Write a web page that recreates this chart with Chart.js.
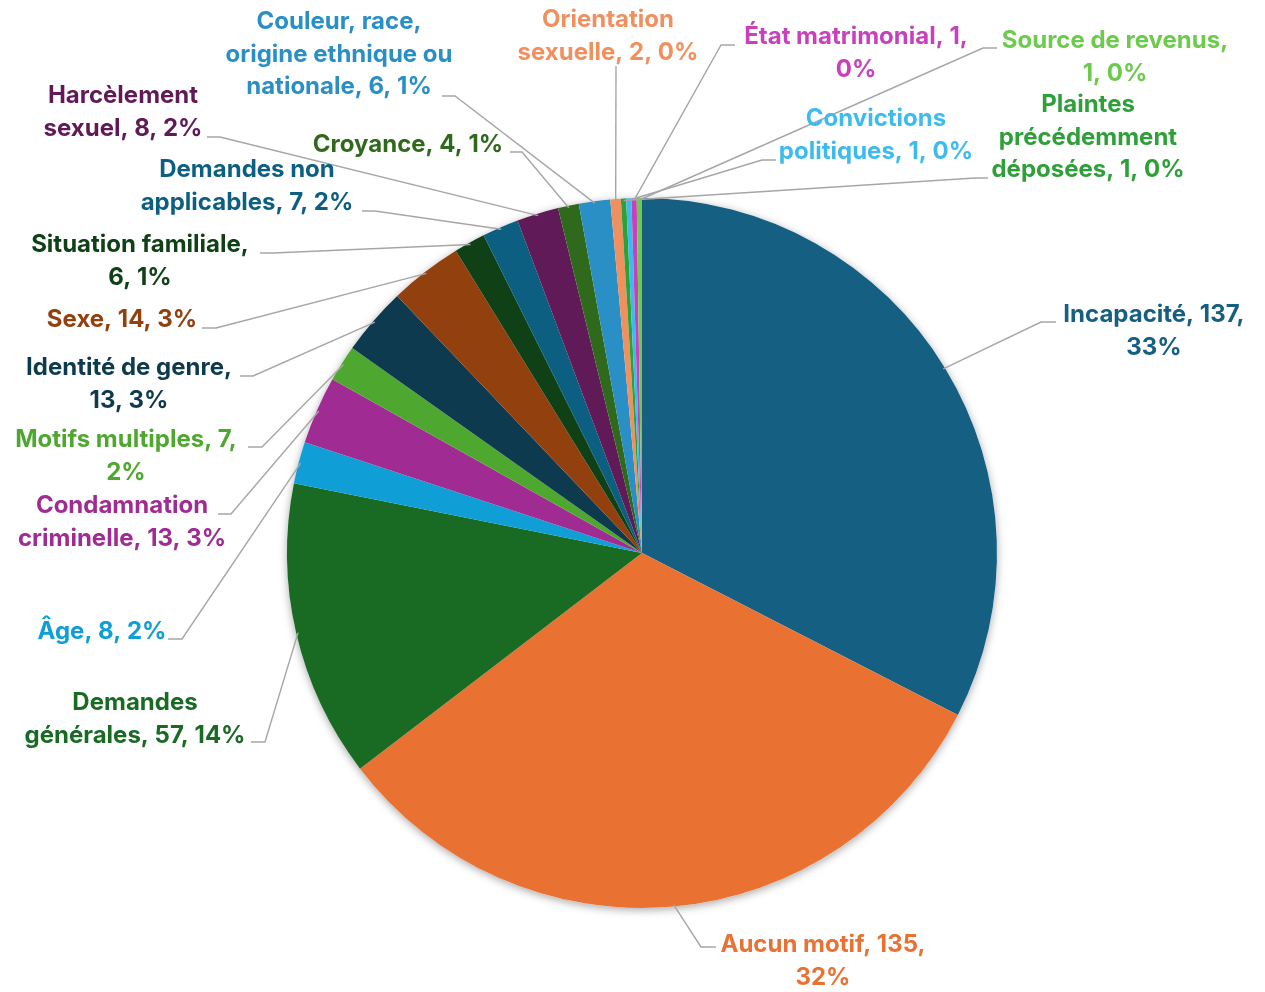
<!DOCTYPE html>
<html>
<head>
<meta charset="utf-8">
<script src="https://cdn.jsdelivr.net/npm/chart.js@4.4.1/dist/chart.umd.min.js"></script>
<style>
html,body{margin:0;padding:0;background:#fff;}
#wrap{width:1265px;height:992px;position:relative;}
</style>
</head>
<body>
<div id="wrap"><canvas id="c" width="1265" height="992"></canvas></div>
<script>
// ---- Data ----
const categories = [
  "Incapacité", "Aucun motif", "Demandes générales", "Âge", "Condamnation criminelle",
  "Motifs multiples", "Identité de genre", "Sexe", "Situation familiale",
  "Demandes non applicables", "Harcèlement sexuel", "Croyance",
  "Couleur, race, origine ethnique ou nationale", "Orientation sexuelle",
  "Plaintes précédemment déposées", "Convictions politiques", "État matrimonial",
  "Source de revenus"
];
const values = [137, 135, 57, 8, 13, 7, 13, 14, 6, 7, 8, 4, 6, 2, 1, 1, 1, 1];
const percentLabels = ["33%", "32%", "14%", "2%", "3%", "2%", "3%", "3%", "1%", "2%", "2%", "1%", "1%", "0%", "0%", "0%", "0%", "0%"];

// ---- Styles ----
const colors = [
  "#156082", "#E97132", "#196B24", "#0F9ED5", "#A02B93", "#4EA72E", "#0D3A4F",
  "#93400F", "#0F4016", "#0C5F80", "#601A58", "#2F6A1C", "#2A8FC5", "#F0905E",
  "#2EA03A", "#3DBBEF", "#C940BC", "#6CCB4C"
];

// ---- Label layout (text lines, text centre x, first line y, leader attach point) ----
const labelLines = [
  ["Incapacité, 137,", "33%"],
  ["Aucun motif, 135,", "32%"],
  ["Demandes", "générales, 57, 14%"],
  ["Âge, 8, 2%"],
  ["Condamnation", "criminelle, 13, 3%"],
  ["Motifs multiples, 7,", "2%"],
  ["Identité de genre,", "13, 3%"],
  ["Sexe, 14, 3%"],
  ["Situation familiale,", "6, 1%"],
  ["Demandes non", "applicables, 7, 2%"],
  ["Harcèlement", "sexuel, 8, 2%"],
  ["Croyance, 4, 1%"],
  ["Couleur, race,", "origine ethnique ou", "nationale, 6, 1%"],
  ["Orientation", "sexuelle, 2, 0%"],
  ["Plaintes", "précédemment", "déposées, 1, 0%"],
  ["Convictions", "politiques, 1, 0%"],
  ["État matrimonial, 1,", "0%"],
  ["Source de revenus,", "1, 0%"]
];
const labelPos = [
  [1154, 315], [823, 945], [135, 703], [102, 632], [122, 506], [126, 440],
  [129, 368], [122, 320], [140, 245], [247, 170], [123, 96], [408, 145],
  [339, 22], [608, 20], [1088, 105], [876, 119], [856, 37], [1115, 41]
];
// attach point of leader at label, and elbow offset (dx, dy) toward the pie
const leaderAttach = [
  [1056, 322, -15, 0], [716, 947, -15, 0], [251, 742, 14, 0], [168, 639, 14, 0],
  [218, 514, 13, 0], [248, 447, 14, 0], [240, 376, 13, 0], [202, 328, 14, 0],
  [260, 253, 13, 0], [362, 211, 13, 0], [207, 137, 13, 0], [510, 152, 12, 0],
  [442, 96, 13, 0], [616, 66, 0, 0], [988, 178, -13, 0], [776, 160, -14, 0],
  [735, 45, -14, 0], [997, 48, -14, 0]
];
const labelFont = "bold 24px Inter, Roboto, sans-serif";
const lineHeight = 32.5;

const shadowPlugin = {
  id: 'pieShadow',
  beforeDatasetsDraw(chart) {
    const arc = chart.getDatasetMeta(0).data[0];
    if (!arc) return;
    const ctx = chart.ctx;
    ctx.save();
    ctx.shadowColor = 'rgba(0,0,0,0.35)';
    ctx.shadowBlur = 9;
    ctx.shadowOffsetX = 0;
    ctx.shadowOffsetY = 2;
    ctx.fillStyle = '#ffffff';
    ctx.beginPath();
    ctx.arc(arc.x, arc.y, arc.outerRadius, 0, Math.PI * 2);
    ctx.fill();
    ctx.restore();
  }
};

const labelPlugin = {
  id: 'outLabels',
  afterDatasetsDraw(chart) {
    const ctx = chart.ctx;
    const meta = chart.getDatasetMeta(0);
    ctx.save();
    meta.data.forEach((arc, i) => {
      const mid = (arc.startAngle + arc.endAngle) / 2;
      const sx = arc.x + Math.cos(mid) * (arc.outerRadius - 2);
      const sy = arc.y + Math.sin(mid) * (arc.outerRadius - 2);
      const [ax, ay, dx, dy] = leaderAttach[i];
      ctx.strokeStyle = '#A6A6A6';
      ctx.lineWidth = 1.4;
      ctx.beginPath();
      ctx.moveTo(ax, ay);
      ctx.lineTo(ax + dx, ay + dy);
      ctx.lineTo(sx, sy);
      ctx.stroke();
    });
    ctx.font = labelFont;
    ctx.textAlign = 'center';
    ctx.textBaseline = 'middle';
    meta.data.forEach((arc, i) => {
      ctx.fillStyle = colors[i];
      const [x, y] = labelPos[i];
      labelLines[i].forEach((t, k) => ctx.fillText(t, x, y + k * lineHeight));
    });
    ctx.restore();
  }
};

new Chart(document.getElementById('c'), {
  type: 'pie',
  data: {
    labels: categories,
    datasets: [{
      data: values,
      backgroundColor: colors,
      borderWidth: 0,
      hoverOffset: 0,
      offset: 0
    }]
  },
  options: {
    responsive: false,
    animation: false,
    layout: { padding: { left: 19, right: 0, top: 198, bottom: 84 } },
    plugins: { legend: { display: false }, tooltip: { enabled: false } },
    events: []
  },
  plugins: [shadowPlugin, labelPlugin]
});
</script>
</body>
</html>
